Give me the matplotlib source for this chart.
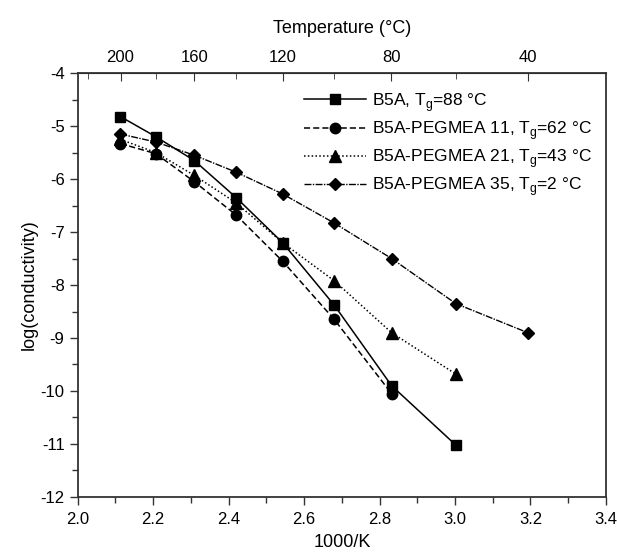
import numpy as np
import matplotlib.pyplot as plt
from matplotlib.ticker import MultipleLocator, FixedLocator

plt.rcParams['font.family'] = ['Liberation Sans', 'DejaVu Sans']
plt.rcParams['axes.unicode_minus'] = False

# 1000/K valores (temperaturas 200,180,...,40 °C)
x_all = [2.113, 2.207, 2.309, 2.420, 2.543, 2.680, 2.832, 3.002, 3.193]

b5a = [-4.82, -5.20, -5.65, -6.35, -7.20, -8.38, -9.90, -11.02]
peg11 = [-5.33, -5.52, -6.05, -6.68, -7.55, -8.65, -10.05]
peg21 = [-5.25, -5.50, -5.93, -6.45, -7.20, -7.92, -8.90, -9.68]
peg35 = [-5.15, -5.30, -5.55, -5.87, -6.28, -6.83, -7.50, -8.35, -8.90]

labels = [r'B5A, T$_\mathregular{g}$=88 °C',
          r'B5A-PEGMEA 11, T$_\mathregular{g}$=62 °C',
          r'B5A-PEGMEA 21, T$_\mathregular{g}$=43 °C',
          r'B5A-PEGMEA 35, T$_\mathregular{g}$=2 °C']

top_ticks = [200, 160, 120, 80, 40]
top_minor = [220, 180, 140, 100, 60]

fig = plt.figure(figsize=(6.17, 5.54), dpi=100)
ax = fig.add_axes([0.126, 0.103, 0.856, 0.765])

ax.plot(x_all[:len(b5a)], b5a, color='black', linestyle='-', lw=1.1,
        marker='s', ms=7, label=labels[0])
ax.plot(x_all[:len(peg11)], peg11, color='black', linestyle=(0, (4, 2)), lw=1.1,
        marker='o', ms=7.5, label=labels[1])
ax.plot(x_all[:len(peg21)], peg21, color='black', linestyle=(0, (1, 1.5)), lw=1.1,
        marker='^', ms=8, label=labels[2])
ax.plot(x_all[:len(peg35)], peg35, color='black', linestyle=(0, (5, 1, 1, 1)), lw=1.0,
        marker='D', ms=6.5, label=labels[3])

ax.set_xlim(2.0, 3.4)
ax.set_ylim(-12, -4)
ax.xaxis.set_major_locator(MultipleLocator(0.2))
ax.xaxis.set_minor_locator(MultipleLocator(0.1))
ax.yaxis.set_major_locator(MultipleLocator(1))
ax.yaxis.set_minor_locator(MultipleLocator(0.5))
ax.xaxis.set_major_formatter(plt.FuncFormatter(lambda v, p: f'{v:.1f}'))
ax.tick_params(which='both', direction='out', labelsize=12, width=1.0, color='#333333')
ax.tick_params(which='major', length=6)
ax.tick_params(which='minor', length=4)
ax.tick_params(axis='x', pad=5)
for s in ax.spines.values():
    s.set_linewidth(1.3)
    s.set_color('#333333')

ax.set_xlabel('1000/K', fontsize=13, labelpad=5)
ax.set_ylabel('log(conductivity)', fontsize=13, labelpad=2)

# Eje superior en temperatura
sec = ax.secondary_xaxis('top', functions=(lambda x: 1000 / x - 273.15,
                                            lambda t: 1000 / (t + 273.15)))
sec.xaxis.set_major_locator(FixedLocator(top_ticks))
sec.xaxis.set_minor_locator(FixedLocator(top_minor))
sec.tick_params(which='both', direction='in', labelsize=12, color='#333333', pad=6)
sec.tick_params(which='major', length=6)
sec.tick_params(which='minor', length=4)
sec.set_xlabel('Temperature (°C)', fontsize=13, labelpad=12)

ax.legend(loc='upper left', bbox_to_anchor=(0.415, 0.975), frameon=False,
          fontsize=12.5, handlelength=3.6, handletextpad=0.3,
          labelspacing=0.3, borderaxespad=0.0)

fig.savefig('out.png', dpi=100)
